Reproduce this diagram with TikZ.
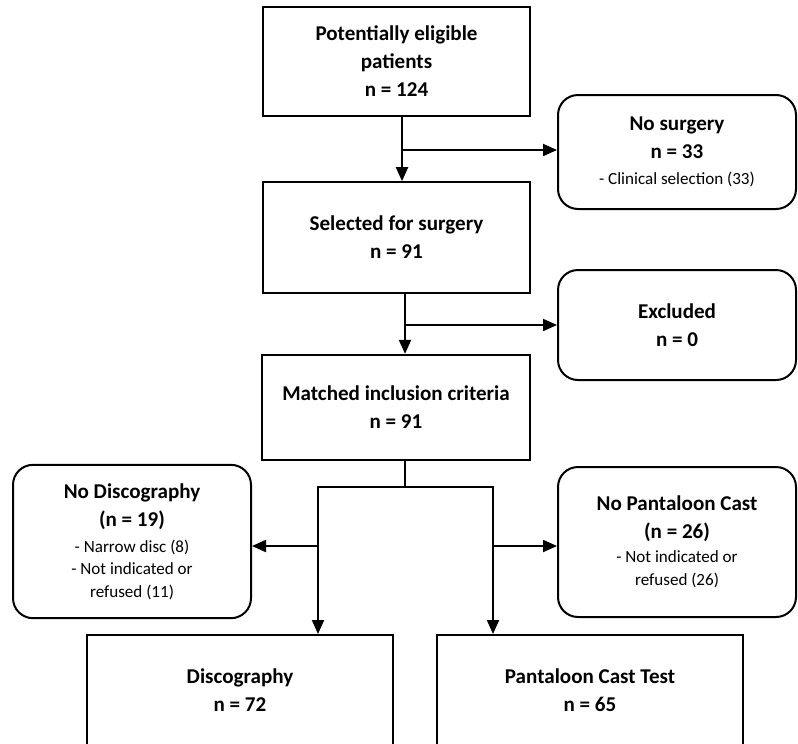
\documentclass[tikz,border=0pt]{standalone}
\usepackage{fontspec}
\setmainfont{Carlito}
\usepackage{tikz}
\usetikzlibrary{arrows.meta,positioning}
\newcommand{\detail}[1]{{\normalfont\fontsize{12.8}{17}\selectfont #1}}

\begin{document}
\begin{tikzpicture}[x=0.75pt,y=-0.75pt,
  box/.style={draw,line width=1.5pt,align=center,inner sep=0pt,
    font=\fontsize{15.8}{21}\selectfont\bfseries},
  side/.style={box,rounded corners=15pt},
  flow/.style={line width=1.5pt,-{Triangle[length=10.5pt,width=9pt]}},
  link/.style={line width=1.5pt}]
  \def\w{798}
  \def\h{743}
  \useasboundingbox (0,0) rectangle (\w,\h);
  \fill[white] (0,0) rectangle (\w,\h);
  \node[box,minimum width=200pt,minimum height=82pt] (pool) at (396.5,61.5)
    {Potentially eligible\\patients\\n = 124};
  \node[box,minimum width=200pt,minimum height=83pt] (sel) at (396.5,237.5)
    {Selected for surgery\\n = 91};
  \node[box,minimum width=201pt,minimum height=79pt] (match) at (396,407.5)
    {Matched inclusion criteria\\n = 91};
  \node[side,minimum width=178.5pt,minimum height=85.5pt] (nosurg) at (677,152)
    {No surgery\\n = 33\\[-1pt]\detail{- Clinical selection (33)}};
  \node[side,minimum width=178.5pt,minimum height=82.5pt] (excl) at (677,325)
    {Excluded\\n = 0};
  \node[side,minimum width=178.5pt,minimum height=115pt] (nodisc) at (132,541.5)
    {No Discography\\(n = 19)\\[-1.5pt]\detail{- Narrow disc (8)}\\[-4pt]\detail{- Not indicated or}\\[-4pt]\detail{refused (11)}};
  \node[side,minimum width=178.5pt,minimum height=112.5pt] (nopant) at (677,542)
    {No Pantaloon Cast\\(n = 26)\\[-3pt]\detail{- Not indicated or}\\[-4pt]\detail{refused (26)}};
  \node[box,minimum width=229.5pt,minimum height=82.5pt] (disc) at (240,690)
    {Discography\\n = 72};
  \node[box,minimum width=229.5pt,minimum height=82.5pt] (pant) at (590,690)
    {Pantaloon Cast Test\\n = 65};
  \coordinate (j1) at (402,150);
  \coordinate (j2) at (405,325);
  \coordinate (split) at (405,487);
  \coordinate (lsplit) at (318,487);
  \coordinate (rsplit) at (493,487);
  \coordinate (lb) at (318,546);
  \coordinate (rb) at (493,546);
  \draw[flow] (pool.south -| j1) -- (sel.north -| j1);
  \draw[flow] (j1) -- (j1 -| nosurg.west);
  \draw[flow] (sel.south -| j2) -- (match.north -| j2);
  \draw[flow] (j2) -- (j2 -| excl.west);
  \draw[link] (match.south -| split) -- (split);
  \draw[flow,{Triangle[length=10.5pt,width=9pt]}-{Triangle[length=10.5pt,width=9pt]}]
    (lsplit |- disc.north) -- (lsplit) -- (rsplit) -- (rsplit |- pant.north);
  \draw[flow] (lb) -- (lb -| nodisc.east);
  \draw[flow] (rb) -- (rb -| nopant.west);
\end{tikzpicture}
\end{document}
